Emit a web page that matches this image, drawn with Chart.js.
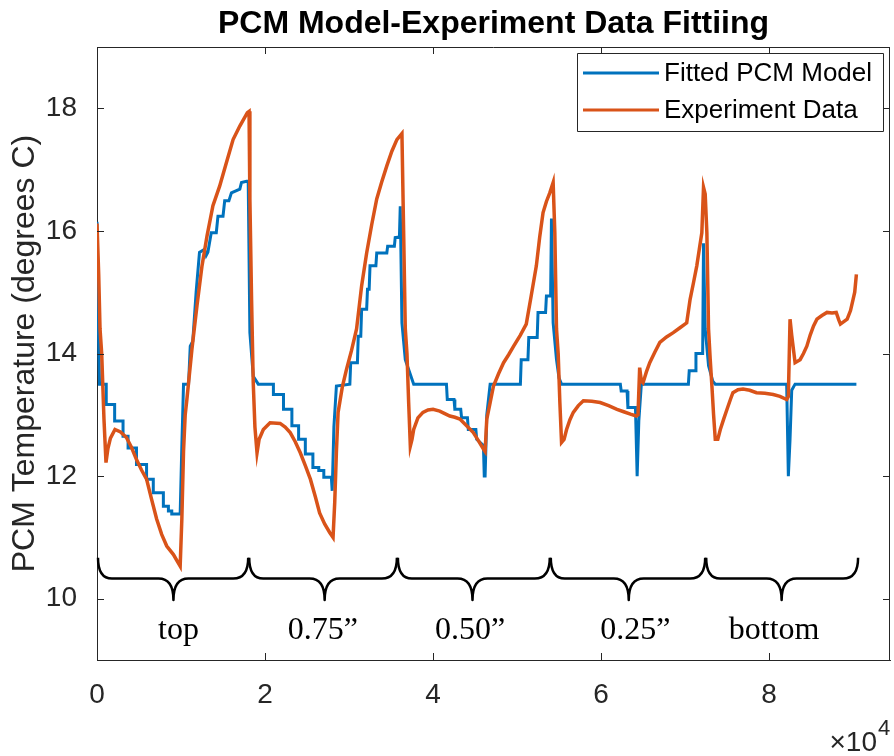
<!DOCTYPE html>
<html>
<head>
<meta charset="utf-8">
<script src="https://cdn.jsdelivr.net/npm/chart.js@4.4.0/dist/chart.umd.min.js"></script>
<style>
  html, body { margin: 0; padding: 0; background: #fff; }
  #wrap { width: 894px; height: 756px; }
</style>
</head>
<body>
<div id="wrap"><canvas id="pcmChart" width="894" height="756"></canvas></div>
<script>
// experiment data (time in s, temperature in degrees C)
const expTime = [
  0, 200, 360, 560, 830, 1070, 1300, 1600, 2140, 2800, 3500, 4100, 4700, 5300, 5900, 6500, 7100, 7700, 8300, 9100,
  9600, 9900, 10100, 10300, 10500, 10700, 11300, 11900, 12500, 13100, 13800, 14600, 15400, 16200, 17000, 17900,
  18100, 18200, 18400, 18600, 18800, 19050,
  19300, 19800, 20600, 21800, 22400, 23000, 23600, 24200, 24800, 25400, 26000, 26500, 27100, 27700, 28100, 28300,
  28500, 28700, 29200, 29700, 30300, 30900, 31500, 32100, 32700, 33300, 33900, 34500, 35100, 35700, 36300, 36500,
  36700, 36900, 37100, 37300,
  37500, 37700, 38200, 38800, 39400, 40000, 40800, 41400, 42000, 42600, 43200, 44000, 44800, 45400, 46000, 46200,
  46400, 46800, 47200, 47800, 48400, 49000, 49600, 50400, 51100, 51700, 52300, 52700, 53100, 53500, 53900, 54300,
  54500, 54700, 54900, 55100, 55300,
  55600, 55900, 56300, 56700, 57300, 57900, 58900, 59900, 60900, 61900, 62700, 63500, 64200, 64400, 64600, 64800,
  65000, 65400, 65800, 66400, 67000, 67800, 68600, 69400, 70200, 70600, 71000, 71400, 71700, 72000, 72200, 72400,
  72600, 72800, 73000, 73200, 73400, 73600,
  73900, 74200, 74600, 75000, 75400, 75700, 76300, 76900, 77700, 78500, 79500, 80500, 81300, 82100, 82300, 82500,
  82700, 83100, 83700, 84100, 84500, 84900, 85300, 85700, 86300, 86900, 87500, 88000, 88300, 88500, 88900, 89300,
  89700, 90000, 90200, 90400
];
const expTemp = [
  16.12, 15.3, 14.4, 14.0, 12.93, 12.22, 12.45, 12.62, 12.76, 12.72, 12.63, 12.47, 12.27, 12.10, 11.95, 11.62, 11.30, 11.05, 10.86, 10.72,
  10.60, 10.53, 11.30, 12.40, 13.00, 13.25, 14.07, 14.78, 15.43, 15.92, 16.41, 16.73, 17.11, 17.49, 17.71, 17.93,
  17.95, 16.52, 14.88, 13.52, 12.80, 12.38,
  12.60, 12.76, 12.87, 12.86, 12.80, 12.71, 12.56, 12.38, 12.17, 11.95, 11.66, 11.40, 11.22, 11.08, 11.00, 11.57,
  12.40, 13.04, 13.45, 13.74, 14.05, 14.40, 15.10, 15.64, 16.10, 16.52, 16.80, 17.06, 17.30, 17.49, 17.59, 16.00,
  14.40, 14.00, 13.20, 12.49,
  12.60, 12.76, 12.95, 13.04, 13.08, 13.09, 13.06, 13.02, 12.98, 12.96, 12.93, 12.82, 12.71, 12.58, 12.44, 12.40,
  12.93, 13.20, 13.47, 13.67, 13.85, 13.98, 14.12, 14.30, 14.48, 14.95, 15.43, 15.90, 16.30, 16.48, 16.62, 16.79,
  15.97, 14.40, 14.00, 13.20, 12.55,
  12.60, 12.76, 12.92, 13.04, 13.15, 13.23, 13.22, 13.20, 13.15, 13.09, 13.05, 13.01, 12.98, 13.00, 13.77, 13.55,
  13.52, 13.70, 13.85, 14.02, 14.18, 14.27, 14.34, 14.42, 14.50, 14.88, 15.15, 15.43, 15.70, 15.97, 16.71, 16.60,
  15.97, 14.40, 13.90, 13.47, 13.00, 12.60,
  12.60, 12.76, 12.93, 13.09, 13.25, 13.36, 13.41, 13.42, 13.40, 13.36, 13.35, 13.33, 13.30, 13.25, 13.30, 14.56,
  14.30, 13.85, 13.90, 14.00, 14.12, 14.30, 14.45, 14.56, 14.62, 14.67, 14.66, 14.67, 14.55, 14.48, 14.52, 14.56,
  14.70, 14.88, 15.00, 15.29
];

// fitted model
const modelTime = [
  0, 150, 300, 1100, 1100, 2100, 2100, 3100, 3100, 3700, 3700, 4700, 4700, 5900, 5900, 6700, 6700, 7900, 7900, 8500,
  8500, 8900, 8900, 9900, 10100, 10300, 10900, 11100, 11400, 11800, 12200, 12800, 13000, 13200, 13600, 14200, 14400,
  15000, 15200, 15700, 16000, 17000, 17200, 17800, 18000, 18200, 18600, 19200,
  21000, 21000, 22200, 22200, 23200, 23200, 24000, 24000, 24800, 24800, 25700, 25700, 26400, 26400, 27000, 27000,
  27900, 28000, 28200, 28500, 30100, 30200, 31000, 31100, 31400, 31500, 32100, 32200, 32400, 32500, 33200, 33300,
  34500, 34600, 35400, 35500, 36000, 36100, 36300, 36700, 37100, 37700,
  41600, 41700, 42500, 42600, 43300, 43400, 44100, 44200, 45100, 45200, 46000, 46100, 46200, 46400, 46800, 50400,
  50500, 51300, 51400, 52400, 52500, 53400, 53500, 54000, 54100, 54300, 54700, 55000, 55300,
  62300, 62400, 63100, 63200, 64100, 64300, 64500, 64800, 70400, 70500, 71200, 71300, 72100, 72200, 72400, 72800,
  73300, 73600,
  82100, 82300, 82500, 82700, 83100, 90400
];
const modelTemp = [
  16.15, 14.5, 13.5, 13.5, 13.17, 13.17, 12.90, 12.90, 12.65, 12.65, 12.46, 12.46, 12.19, 12.19, 11.95, 11.95, 11.73, 11.73, 11.51, 11.51,
  11.43, 11.43, 11.38, 11.38, 12.5, 13.5, 13.5, 14.12, 14.2, 15.0, 15.65, 15.7, 15.6, 15.65, 15.97, 15.97, 16.24,
  16.24, 16.49, 16.49, 16.62, 16.68, 16.79, 16.81, 16.81, 14.34, 13.63, 13.5,
  13.5, 13.33, 13.33, 13.09, 13.09, 12.82, 12.82, 12.60, 12.60, 12.36, 12.36, 12.14, 12.14, 12.09, 12.09, 11.98,
  11.98, 11.76, 12.8, 13.47, 13.5, 13.85, 13.85, 14.28, 14.28, 14.72, 14.72, 15.05, 15.05, 15.43, 15.43, 15.64,
  15.64, 15.75, 15.75, 15.89, 15.9, 16.4, 14.5, 13.9, 13.74, 13.5,
  13.5, 13.25, 13.25, 13.09, 13.09, 12.95, 12.95, 12.76, 12.76, 12.6, 12.5, 12.0, 12.0, 13.0, 13.5, 13.5,
  13.9, 13.9, 14.26, 14.26, 14.67, 14.67, 14.94, 14.94, 16.2, 14.5, 13.9, 13.6, 13.5,
  13.5, 13.39, 13.39, 13.12, 13.12, 12.0, 12.9, 13.5, 13.5, 13.72, 13.72, 14.0, 14.0, 15.8, 14.4, 13.8,
  13.55, 13.5,
  13.5, 12.0, 12.6, 13.4, 13.5, 13.5
];

const xTicks = [0, 20000, 40000, 60000, 80000];
const yTicks = [10, 12, 14, 16, 18];

// sensor position brackets
const sectionLabels = ['top', '0.75\u201D', '0.50\u201D', '0.25\u201D', 'bottom'];
const braceStart = [0, 18000, 35700, 53900, 72400];
const braceEnd = [18000, 35700, 53900, 72400, 90600];
const braceTip = [9100, 27100, 44700, 63300, 81500];
const labelX = [9700, 26900, 44400, 64100, 80600];

const axisColor = '#262626';
const sans = '"Liberation Sans", Arial, Helvetica, sans-serif';

const decor = {
  id: 'decor',
  afterDraw(chart) {
    const ctx = chart.ctx;
    const a = chart.chartArea;
    const xs = chart.scales.x, ys = chart.scales.y;
    ctx.save();

    // box + inward ticks
    ctx.strokeStyle = axisColor;
    ctx.lineWidth = 1;
    ctx.beginPath();
    ctx.moveTo(a.left, a.top + 0.5); ctx.lineTo(a.right, a.top + 0.5);
    ctx.moveTo(a.right - 0.5, a.top); ctx.lineTo(a.right - 0.5, a.bottom);
    xTicks.forEach(v => {
      const px = Math.round(xs.getPixelForValue(v)) + 0.5;
      ctx.moveTo(px, a.bottom); ctx.lineTo(px, a.bottom - 7);
      ctx.moveTo(px, a.top); ctx.lineTo(px, a.top + 7);
    });
    yTicks.forEach(v => {
      const py = Math.round(ys.getPixelForValue(v)) + 0.5;
      ctx.moveTo(a.left, py); ctx.lineTo(a.left + 7, py);
      ctx.moveTo(a.right, py); ctx.lineTo(a.right - 7, py);
    });
    ctx.stroke();

    // braces
    const r = 15;
    const yEnd = ys.getPixelForValue(10.67);
    const yFlat = ys.getPixelForValue(10.33);
    const yTip = ys.getPixelForValue(9.98);
    ctx.strokeStyle = '#000';
    ctx.lineWidth = 2.5;
    ctx.lineJoin = 'round';
    braceStart.forEach((s, i) => {
      const x0 = xs.getPixelForValue(s), x1 = xs.getPixelForValue(braceEnd[i]);
      const xt = xs.getPixelForValue(braceTip[i]);
      ctx.beginPath();
      ctx.moveTo(x0 + 1, yEnd);
      ctx.quadraticCurveTo(x0 + 1, yFlat, x0 + r, yFlat);
      ctx.lineTo(xt - r, yFlat);
      ctx.quadraticCurveTo(xt, yFlat, xt, yTip);
      ctx.quadraticCurveTo(xt, yFlat, xt + r, yFlat);
      ctx.lineTo(x1 - r, yFlat);
      ctx.quadraticCurveTo(x1, yFlat, x1, yEnd);
      ctx.stroke();
    });

    // section labels
    ctx.fillStyle = '#000';
    ctx.font = '32px "Liberation Serif", "Times New Roman", serif';
    ctx.textAlign = 'center';
    ctx.textBaseline = 'alphabetic';
    sectionLabels.forEach((t, i) => {
      ctx.fillText(t, xs.getPixelForValue(labelX[i]), ys.getPixelForValue(9.34));
    });

    // title
    ctx.font = 'bold 32px ' + sans;
    ctx.fillText('PCM Model-Experiment Data Fittiing', (a.left + a.right) / 2, 33);

    // legend
    const lw = 306, lh = 78;
    const lx = a.right - 313, ly = a.top + 6;
    ctx.fillStyle = '#fff';
    ctx.fillRect(lx, ly, lw, lh);
    ctx.strokeStyle = axisColor;
    ctx.lineWidth = 1;
    ctx.strokeRect(lx + 0.5, ly + 0.5, lw, lh);
    ctx.font = '26px ' + sans;
    ctx.textAlign = 'left';
    ctx.textBaseline = 'middle';
    chart.data.datasets.forEach((ds, i) => {
      const yy = ly + 20 + i * 37;
      ctx.strokeStyle = ds.borderColor;
      ctx.lineWidth = 3;
      ctx.beginPath();
      ctx.moveTo(lx + 6, yy); ctx.lineTo(lx + 82, yy);
      ctx.stroke();
      ctx.fillStyle = '#000';
      ctx.fillText(ds.label, lx + 87, yy + 1);
    });

    // exponent
    ctx.fillStyle = axisColor;
    ctx.textBaseline = 'alphabetic';
    ctx.textAlign = 'right';
    ctx.font = '28px ' + sans;
    ctx.fillText('\u00D710', 877, 751);
    ctx.textAlign = 'left';
    ctx.font = '22px ' + sans;
    ctx.fillText('4', 878, 735);
    ctx.restore();
  }
};

new Chart(document.getElementById('pcmChart').getContext('2d'), {
  type: 'line',
  data: {
    datasets: [{
      label: 'Fitted PCM Model',
      data: modelTime.map((t, i) => ({ x: t, y: modelTemp[i] })),
      borderColor: '#0072BD',
      borderWidth: 3,
      pointRadius: 0,
      tension: 0,
      order: 1
    }, {
      label: 'Experiment Data',
      data: expTime.map((t, i) => ({ x: t, y: expTemp[i] })),
      borderColor: '#D95319',
      borderWidth: 3.5,
      pointRadius: 0,
      tension: 0,
      order: 0
    }]
  },
  options: {
    responsive: false,
    devicePixelRatio: 1,
    animation: false,
    layout: { padding: { top: 47, right: 4, left: 0, bottom: 0 } },
    plugins: {
      legend: { display: false },
      tooltip: { enabled: false }
    },
    scales: {
      x: {
        type: 'linear',
        min: 0,
        max: 94400,
        afterBuildTicks: s => { s.ticks = xTicks.map(v => ({ value: v })); },
        afterFit: s => { s.height = 96; },
        grid: { display: false },
        border: { display: true, color: axisColor, width: 1 },
        ticks: {
          callback: v => v / 10000,
          color: axisColor,
          font: { family: sans, size: 28 },
          padding: 10,
          maxRotation: 0
        }
      },
      y: {
        min: 9,
        max: 19,
        afterBuildTicks: s => { s.ticks = yTicks.map(v => ({ value: v })); },
        afterFit: s => { s.width = 97; },
        grid: { display: false },
        border: { display: true, color: axisColor, width: 1 },
        title: {
          display: true,
          text: 'PCM Temperature (degrees C)',
          color: axisColor,
          font: { family: sans, size: 32 },
          padding: { top: 6, bottom: 0 }
        },
        ticks: {
          color: axisColor,
          font: { family: sans, size: 28 },
          padding: 12
        }
      }
    }
  },
  plugins: [decor]
});
</script>
</body>
</html>
